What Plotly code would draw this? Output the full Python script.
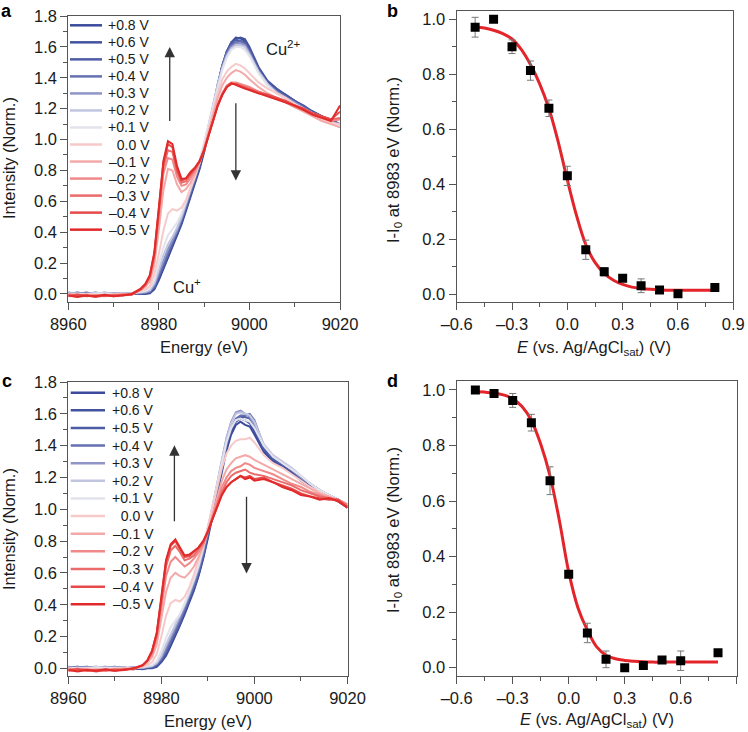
import plotly.graph_objects as go

# ---------------- data ----------------
voltages = ["+0.8 V", "+0.6 V", "+0.5 V", "+0.4 V", "+0.3 V", "+0.2 V", "+0.1 V",
            "\u20070.0 V", "\u20130.1 V", "\u20130.2 V", "\u20130.3 V", "\u20130.4 V", "\u20130.5 V"]
colors = ["#3a4a9c", "#43529f", "#4e5ca6", "#6570b0", "#8f95c6", "#c2c5e0", "#e3e3ec",
          "#f8c9c9", "#f4a9a9", "#f08a8a", "#eb6b6b", "#e64a4a", "#e12a2a"]

energy = [8960, 8962, 8964, 8966, 8968, 8970, 8972, 8974, 8976,
          8977, 8978, 8979, 8980, 8981, 8982, 8983, 8984, 8985, 8986, 8987, 8988,
          8989, 8990, 8991, 8992, 8993, 8994, 8995, 8996, 8997, 8998, 8999, 9000,
          9002, 9004, 9006, 9008, 9010, 9012, 9014, 9016, 9018, 9020]

# panel a spectra
a_p08 = [0.01,0.0,0.005,-0.005,0.0,0.005,0.0,0.0,0.0, 0.0,0.005,0.03,0.09,0.16,0.23,0.30,0.37,0.45,0.54,0.63,0.72,0.81,0.92,1.05,1.19,1.34,1.47,1.57,1.63,1.66,1.655,1.64,1.59, 1.46,1.37,1.32,1.29,1.25,1.21,1.18,1.15,1.12,1.09]
a_p06 = [0.0,0.01,0.0,0.0,-0.005,0.0,0.005,0.0,0.005, 0.005,0.01,0.04,0.10,0.17,0.24,0.31,0.38,0.46,0.55,0.64,0.73,0.82,0.93,1.06,1.20,1.35,1.48,1.57,1.62,1.65,1.66,1.65,1.60, 1.47,1.38,1.33,1.29,1.25,1.22,1.18,1.15,1.13,1.10]
a_p05 = [0.005,0.0,0.01,0.0,0.005,-0.005,0.0,0.005,0.0, 0.005,0.01,0.04,0.11,0.18,0.25,0.32,0.39,0.47,0.56,0.65,0.74,0.83,0.94,1.07,1.21,1.36,1.48,1.57,1.63,1.645,1.64,1.63,1.58, 1.46,1.37,1.32,1.28,1.25,1.21,1.18,1.15,1.12,1.09]
a_p04 = [0.0,0.005,0.0,0.01,0.0,0.0,0.005,0.0,0.005, 0.01,0.015,0.05,0.12,0.19,0.26,0.33,0.40,0.48,0.57,0.66,0.75,0.84,0.95,1.08,1.22,1.36,1.48,1.56,1.61,1.63,1.635,1.62,1.57, 1.45,1.36,1.31,1.28,1.24,1.21,1.17,1.14,1.12,1.08]
a_p03 = [0.005,0.0,0.005,0.0,0.01,0.0,0.0,0.005,0.01, 0.01,0.02,0.06,0.14,0.22,0.29,0.35,0.41,0.49,0.58,0.67,0.76,0.85,0.96,1.09,1.23,1.36,1.47,1.55,1.60,1.62,1.62,1.61,1.56, 1.44,1.36,1.31,1.27,1.24,1.20,1.17,1.14,1.11,1.08]
a_p02 = [0.0,0.005,0.0,0.005,0.0,0.005,0.0,0.005,0.01, 0.015,0.025,0.07,0.16,0.25,0.32,0.37,0.43,0.50,0.59,0.68,0.77,0.86,0.97,1.10,1.23,1.36,1.46,1.54,1.59,1.61,1.61,1.60,1.55, 1.44,1.36,1.30,1.27,1.23,1.20,1.17,1.14,1.11,1.08]
a_p01 = [0.005,0.0,0.0,0.005,0.005,0.0,0.005,0.0,0.015, 0.02,0.035,0.09,0.20,0.30,0.38,0.42,0.46,0.52,0.60,0.69,0.78,0.87,0.98,1.10,1.23,1.35,1.45,1.53,1.58,1.60,1.60,1.58,1.54, 1.43,1.35,1.30,1.26,1.23,1.20,1.17,1.14,1.11,1.09]
a_z00 = [0.0,-0.01,0.0,-0.005,-0.01,0.0,-0.005,0.0,0.02, 0.03,0.05,0.13,0.26,0.41,0.52,0.55,0.54,0.56,0.61,0.68,0.76,0.85,0.95,1.07,1.19,1.30,1.39,1.44,1.47,1.49,1.48,1.46,1.43, 1.37,1.33,1.30,1.27,1.23,1.19,1.16,1.13,1.11,1.10]
a_m01 = [-0.01,0.0,-0.015,-0.005,-0.01,-0.005,0.0,-0.005,0.025, 0.045,0.08,0.19,0.42,0.67,0.81,0.80,0.71,0.66,0.68,0.72,0.78,0.85,0.94,1.05,1.16,1.27,1.35,1.40,1.43,1.45,1.44,1.42,1.39, 1.34,1.30,1.27,1.24,1.21,1.18,1.15,1.12,1.10,1.08]
a_m02 = [0.0,-0.01,-0.005,-0.015,-0.005,-0.01,-0.005,0.0,0.03, 0.055,0.10,0.23,0.50,0.78,0.88,0.87,0.76,0.70,0.71,0.75,0.80,0.86,0.94,1.04,1.14,1.23,1.30,1.35,1.37,1.37,1.36,1.35,1.34, 1.31,1.29,1.27,1.24,1.21,1.19,1.16,1.14,1.12,1.13]
a_m03 = [-0.01,-0.005,-0.015,-0.01,-0.015,-0.005,-0.01,0.0,0.03, 0.06,0.11,0.25,0.53,0.82,0.93,0.92,0.79,0.72,0.73,0.77,0.81,0.86,0.93,1.03,1.13,1.22,1.29,1.34,1.36,1.36,1.35,1.34,1.33, 1.31,1.29,1.27,1.25,1.22,1.20,1.17,1.15,1.13,1.14]
a_m04 = [-0.015,-0.005,-0.01,-0.02,-0.01,-0.015,-0.005,-0.005,0.03, 0.06,0.12,0.26,0.55,0.85,0.97,0.95,0.81,0.735,0.745,0.78,0.815,0.86,0.93,1.03,1.13,1.22,1.29,1.34,1.36,1.36,1.345,1.335,1.325, 1.30,1.29,1.27,1.25,1.22,1.20,1.17,1.15,1.13,1.18]
a_m05 = [-0.01,-0.02,-0.01,-0.015,-0.005,-0.015,-0.01,0.0,0.035, 0.065,0.12,0.27,0.56,0.86,0.99,0.97,0.83,0.745,0.75,0.79,0.82,0.86,0.93,1.03,1.13,1.22,1.29,1.34,1.365,1.355,1.34,1.33,1.32, 1.30,1.28,1.26,1.24,1.22,1.19,1.16,1.14,1.12,1.22]

# panel c spectra
c_p08 = [0.005,0.01,0.0,0.005,-0.005,0.01,0.0,0.0,-0.005, 0.0,0.0,0.01,0.04,0.08,0.14,0.20,0.27,0.34,0.41,0.49,0.58,0.69,0.82,0.96,1.10,1.24,1.37,1.47,1.53,1.55,1.53,1.52,1.47, 1.36,1.30,1.27,1.23,1.18,1.14,1.11,1.08,1.05,1.01]
c_p06 = [0.0,0.005,0.01,0.0,0.005,0.0,0.005,-0.005,0.0, 0.0,0.005,0.015,0.045,0.09,0.15,0.21,0.28,0.35,0.42,0.50,0.59,0.70,0.83,0.97,1.11,1.26,1.39,1.49,1.55,1.57,1.56,1.54,1.49, 1.37,1.31,1.27,1.23,1.19,1.15,1.11,1.08,1.05,1.02]
c_p05 = [0.01,0.0,0.005,0.01,0.0,0.005,0.0,0.005,0.0, 0.005,0.005,0.02,0.05,0.10,0.16,0.22,0.29,0.36,0.43,0.51,0.60,0.71,0.84,0.98,1.12,1.27,1.40,1.50,1.56,1.58,1.58,1.57,1.52, 1.38,1.32,1.28,1.24,1.19,1.15,1.11,1.08,1.05,1.02]
c_p04 = [0.0,0.01,0.0,0.005,0.01,0.0,0.005,0.0,0.005, 0.005,0.01,0.025,0.06,0.11,0.17,0.23,0.30,0.37,0.44,0.52,0.61,0.72,0.85,0.99,1.13,1.28,1.41,1.51,1.57,1.59,1.59,1.60,1.56, 1.40,1.33,1.29,1.25,1.20,1.16,1.12,1.09,1.06,1.02]
c_p03 = [0.005,0.0,0.01,0.0,0.005,0.01,0.0,0.005,0.0, 0.01,0.015,0.03,0.07,0.13,0.19,0.25,0.32,0.39,0.46,0.54,0.63,0.74,0.87,1.01,1.16,1.31,1.45,1.55,1.61,1.62,1.60,1.58,1.53, 1.40,1.33,1.29,1.25,1.20,1.16,1.12,1.09,1.06,1.02]
c_p02 = [0.0,0.005,0.0,0.01,0.0,0.005,0.0,0.0,0.005, 0.01,0.015,0.035,0.08,0.15,0.21,0.27,0.33,0.40,0.47,0.55,0.64,0.75,0.88,1.02,1.16,1.31,1.44,1.54,1.60,1.61,1.60,1.59,1.55, 1.41,1.34,1.30,1.26,1.21,1.16,1.12,1.09,1.06,1.03]
c_p01 = [0.005,0.0,0.0,0.005,0.005,0.0,0.005,0.0,0.01, 0.015,0.02,0.045,0.11,0.19,0.26,0.30,0.34,0.41,0.48,0.56,0.65,0.76,0.88,1.02,1.16,1.30,1.42,1.51,1.56,1.57,1.56,1.55,1.51, 1.40,1.33,1.29,1.25,1.21,1.16,1.12,1.09,1.06,1.03]
c_z00 = [0.0,-0.01,0.0,-0.005,-0.01,0.0,-0.005,0.0,0.01, 0.02,0.04,0.09,0.20,0.33,0.41,0.43,0.42,0.45,0.51,0.59,0.68,0.78,0.89,1.01,1.14,1.26,1.35,1.40,1.43,1.44,1.44,1.45,1.42, 1.34,1.29,1.26,1.22,1.18,1.14,1.11,1.08,1.05,1.02]
c_m01 = [-0.01,0.0,-0.015,-0.005,-0.01,-0.005,0.0,-0.005,0.015, 0.035,0.07,0.15,0.31,0.48,0.57,0.60,0.58,0.57,0.60,0.64,0.70,0.77,0.86,0.97,1.08,1.18,1.25,1.29,1.32,1.33,1.34,1.33,1.31, 1.28,1.25,1.22,1.19,1.16,1.13,1.10,1.08,1.06,1.03]
c_m02 = [0.0,-0.01,-0.005,-0.015,-0.005,-0.01,-0.005,0.0,0.02, 0.045,0.09,0.19,0.38,0.58,0.67,0.70,0.67,0.64,0.66,0.69,0.73,0.78,0.86,0.95,1.05,1.14,1.20,1.24,1.26,1.27,1.29,1.28,1.26, 1.24,1.22,1.19,1.16,1.14,1.11,1.09,1.07,1.06,1.03]
c_m03 = [-0.01,-0.005,-0.015,-0.01,-0.015,-0.005,-0.01,0.0,0.02, 0.05,0.10,0.21,0.42,0.64,0.74,0.77,0.73,0.68,0.69,0.71,0.75,0.79,0.86,0.94,1.03,1.11,1.17,1.21,1.23,1.24,1.25,1.23,1.22, 1.21,1.19,1.17,1.15,1.12,1.10,1.08,1.07,1.06,1.02]
c_m04 = [-0.015,-0.005,-0.01,-0.02,-0.01,-0.015,-0.005,-0.005,0.02, 0.05,0.11,0.22,0.44,0.67,0.77,0.80,0.75,0.70,0.705,0.73,0.76,0.80,0.86,0.94,1.02,1.09,1.14,1.17,1.19,1.21,1.20,1.21,1.19, 1.20,1.17,1.15,1.13,1.10,1.08,1.07,1.06,1.06,1.01]
c_m05 = [-0.01,-0.02,-0.01,-0.015,-0.005,-0.015,-0.01,0.0,0.02, 0.05,0.11,0.22,0.45,0.68,0.78,0.81,0.76,0.71,0.715,0.74,0.76,0.80,0.86,0.94,1.02,1.09,1.14,1.17,1.19,1.21,1.19,1.20,1.18, 1.19,1.17,1.14,1.12,1.09,1.08,1.06,1.07,1.05,1.01]

spectra_a = [a_p08, a_p06, a_p05, a_p04, a_p03, a_p02, a_p01, a_z00, a_m01, a_m02, a_m03, a_m04, a_m05]
spectra_c = [c_p08, c_p06, c_p05, c_p04, c_p03, c_p02, c_p01, c_z00, c_m01, c_m02, c_m03, c_m04, c_m05]

# panels b and d: data points
potential_b = [-0.5, -0.4, -0.3, -0.2, -0.1, 0.0, 0.1, 0.2, 0.3, 0.4, 0.5, 0.6, 0.8]
intensity_b = [0.971, 1.0, 0.900, 0.813, 0.676, 0.430, 0.161, 0.081, 0.057, 0.030, 0.015, 0.001, 0.024]
error_b = [0.036, 0.0, 0.025, 0.035, 0.030, 0.035, 0.035, 0.015, 0.010, 0.025, 0.012, 0.0, 0.010]

potential_d = [-0.5, -0.4, -0.3, -0.2, -0.1, 0.0, 0.1, 0.2, 0.3, 0.4, 0.5, 0.6, 0.8]
intensity_d = [1.0, 0.987, 0.962, 0.882, 0.673, 0.336, 0.125, 0.030, 0.0, 0.008, 0.028, 0.025, 0.054]
error_d = [0.0, 0.005, 0.025, 0.030, 0.050, 0.010, 0.035, 0.030, 0.0, 0.0, 0.010, 0.035, 0.0]

# fitted curves
fit_x = [-0.5, -0.45, -0.4, -0.35, -0.3, -0.25, -0.2, -0.15, -0.1, -0.05, 0.0, 0.05,
         0.1, 0.15, 0.2, 0.25, 0.3, 0.35, 0.4, 0.45, 0.5, 0.6, 0.7, 0.8]
fit_b = [0.972, 0.968, 0.960, 0.948, 0.928, 0.890, 0.835, 0.765, 0.675, 0.555, 0.415, 0.285,
         0.180, 0.115, 0.075, 0.050, 0.035, 0.025, 0.020, 0.017, 0.015, 0.014, 0.014, 0.014]
fit_d = [0.993, 0.992, 0.989, 0.982, 0.968, 0.940, 0.890, 0.805, 0.690, 0.530, 0.345, 0.215,
         0.135, 0.075, 0.045, 0.032, 0.026, 0.023, 0.021, 0.020, 0.020, 0.020, 0.020, 0.020]

xticks_b = [-0.6, -0.3, 0.0, 0.3, 0.6, 0.9]
xticklabels_b = ["\u20130.6", "\u20130.3", "0.0", "0.3", "0.6", "0.9"]

# ---------------- figure ----------------
FONT = "Liberation Sans, Arial, Helvetica, sans-serif"
W, H = 748, 732
fig = go.Figure()

for vals, name, col in zip(spectra_a, voltages, colors):
    fig.add_trace(go.Scatter(x=energy, y=vals, mode="lines", name=name,
                             line=dict(color=col, width=2), showlegend=False,
                             xaxis="x", yaxis="y"))
for vals, name, col in zip(spectra_c, voltages, colors):
    fig.add_trace(go.Scatter(x=energy, y=vals, mode="lines", name=name,
                             line=dict(color=col, width=2), showlegend=False,
                             xaxis="x3", yaxis="y3"))

for xa, ya, px, py, pe, fy in [("x2", "y2", potential_b, intensity_b, error_b, fit_b),
                               ("x4", "y4", potential_d, intensity_d, error_d, fit_d)]:
    fig.add_trace(go.Scatter(x=fit_x, y=fy, mode="lines", line=dict(color="#e3252b", width=3, shape="spline"),
                             showlegend=False, xaxis=xa, yaxis=ya))
    fig.add_trace(go.Scatter(x=px, y=py, mode="markers",
                             marker=dict(symbol="square", size=9, color="black"),
                             error_y=dict(type="data", array=pe, visible=True, color="#777777",
                                          thickness=1, width=3.5),
                             showlegend=False, xaxis=xa, yaxis=ya))

tickfont = dict(family=FONT, size=16.5, color="#1a1a1a")
common = dict(showline=True, mirror=True, linecolor="#555555", linewidth=1.2,
              ticks="outside", ticklen=7, tickwidth=1.1, tickcolor="#555555",
              showgrid=False, zeroline=False, tickfont=tickfont, automargin=False)

def px2fx(p):
    return p / W

def px2fy(p):
    return 1 - p / H

minor_x = dict(ticks="outside", ticklen=4, tickcolor="#555555", showgrid=False)

fig.update_layout(
    template="none",
    width=W, height=H, margin=dict(l=0, r=0, t=0, b=0, autoexpand=False),
    paper_bgcolor="white", plot_bgcolor="white", showlegend=False,
    font=dict(family=FONT, color="#1a1a1a"),
    xaxis=dict(domain=[px2fx(68.3), px2fx(340)], anchor="y", range=[8960, 9020], dtick=20,
               minor=dict(dtick=10, **minor_x), **common),
    yaxis=dict(domain=[px2fy(302), px2fy(16)], anchor="x", range=[-0.052, 1.8], dtick=0.2, tickformat=".1f",
               minor=dict(dtick=0.1, **minor_x), **common),
    xaxis2=dict(domain=[px2fx(456.7), px2fx(733.3)], anchor="y2", range=[-0.6, 0.9],
                tickvals=xticks_b, ticktext=xticklabels_b,
                minor=dict(dtick=0.15, **minor_x), **common),
    yaxis2=dict(domain=[px2fy(301.7), px2fy(11)], anchor="x2", range=[-0.028, 1.030], dtick=0.2, tickformat=".1f",
                minor=dict(dtick=0.1, **minor_x), **common),
    xaxis3=dict(domain=[px2fx(68.3), px2fx(347.5)], anchor="y3", range=[8960, 9020], dtick=20,
                minor=dict(dtick=10, **minor_x), **common),
    yaxis3=dict(domain=[px2fy(676), px2fy(382)], anchor="x3", range=[-0.048, 1.8], dtick=0.2, tickformat=".1f",
                minor=dict(dtick=0.1, **minor_x), **common),
    xaxis4=dict(domain=[px2fx(456.7), px2fx(736.7)], anchor="y4", range=[-0.6, 0.9],
                tickvals=xticks_b, ticktext=xticklabels_b,
                minor=dict(dtick=0.15, **minor_x), **common),
    yaxis4=dict(domain=[px2fy(676), px2fy(381)], anchor="x4", range=[-0.030, 1.032], dtick=0.2, tickformat=".1f",
                minor=dict(dtick=0.1, **minor_x), **common),
)

ann = []
shapes = []
# manual legends
for (lx0, lx1, tx, y0, dy) in [(70, 102, 152, 25.3, 17.03), (70.7, 105, 155.7, 392.7, 17.63)]:
    for i, (name, col) in enumerate(zip(voltages, colors)):
        yy = px2fy(y0 + dy * i)
        shapes.append(dict(type="line", xref="paper", yref="paper", x0=px2fx(lx0), x1=px2fx(lx1),
                           y0=yy, y1=yy, line=dict(color=col, width=2.5)))
        ann.append(dict(xref="paper", yref="paper", x=px2fx(tx), y=yy, text=name, showarrow=False,
                        xanchor="right", yanchor="middle", font=dict(family=FONT, size=14, color="#1a1a1a")))

tfont = dict(family=FONT, size=16.5, color="#1a1a1a")
def title(x, y, text, angle=0):
    ann.append(dict(xref="paper", yref="paper", x=px2fx(x), y=px2fy(y), text=text, showarrow=False,
                    xanchor="center", yanchor="middle", textangle=angle, font=tfont, borderpad=0))

title(204, 347, "Energy (eV)")
title(208, 721, "Energy (eV)")
title(9, 158, "Intensity (Norm.)", -90)
title(9, 529, "Intensity (Norm.)", -90)
title(594, 348, "<i>E</i> (vs. Ag/AgCl<sub>sat</sub>) (V)")
title(597, 720, "<i>E</i> (vs. Ag/AgCl<sub>sat</sub>) (V)")
title(394, 160, "I-I<sub>0</sub> at 8983 eV (Norm.)", -90)
title(394, 530, "I-I<sub>0</sub> at 8983 eV (Norm.)", -90)

for x, y, t in [(7, 0, "a"), (392, 0, "b"), (7, 370, "c"), (392, 370, "d")]:
    ann.append(dict(xref="paper", yref="paper", x=px2fx(x), y=px2fy(y), text="<b>%s</b>" % t,
                    showarrow=False, xanchor="center", yanchor="top", borderpad=0,
                    font=dict(family=FONT, size=18, color="black")))

# Cu labels
ann.append(dict(xref="x", yref="y", x=9007.5, y=1.59, text="Cu<sup>2+</sup>", showarrow=False, font=tfont))
ann.append(dict(xref="x", yref="y", x=8986.3, y=0.05, text="Cu<sup>+</sup>", showarrow=False, font=tfont))

# arrows
for xr, yr, x, yt, yh in [("x", "y", 8982.4, 1.11, 1.60), ("x", "y", 8997.0, 1.245, 0.734),
                          ("x3", "y3", 8982.8, 0.916, 1.402), ("x3", "y3", 8998.3, 1.088, 0.597)]:
    ann.append(dict(xref=xr, yref=yr, axref=xr, ayref=yr, x=x, y=yh, ax=x, ay=yt, text="",
                    showarrow=True, arrowhead=2, arrowsize=1.6, arrowwidth=1.3, arrowcolor="#333333"))

fig.update_layout(annotations=ann, shapes=shapes)
fig.write_html("out.html", config={"displayModeBar": False},
               post_script="document.body.style.margin='0px';document.body.style.overflow='hidden';")
